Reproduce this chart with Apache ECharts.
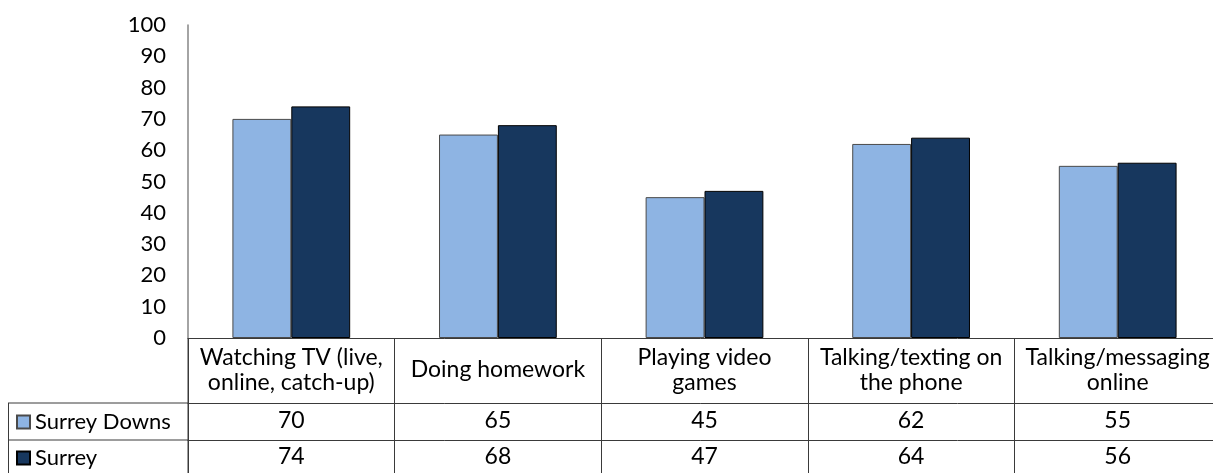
<!DOCTYPE html>
<html><head><meta charset="utf-8">
<script src="https://cdn.jsdelivr.net/npm/echarts@6/dist/echarts.min.js"></script>
<style>html,body{margin:0;padding:0;background:#fff}#c{width:1213px;height:473px}</style>
</head><body><div id="c"></div>
<script>
const categories = ['Watching TV (live,\nonline, catch-up)', 'Doing homework', 'Playing video\ngames', 'Talking/texting on\nthe phone', 'Talking/messaging\nonline'];
const seriesNames = ['Surrey Downs', 'Surrey'];
const surreyDowns = [70, 65, 45, 62, 55];
const surrey = [74, 68, 47, 64, 56];
const yTicks = [0, 10, 20, 30, 40, 50, 60, 70, 80, 90, 100];

const FONT = 'Lato';
const FS = 22;
const CFS = 23;
const lineCol = '#3a3a3a';
const chart = echarts.init(document.getElementById('c'), null, {renderer: 'canvas'});

const GL = 188, GT = 25, GH = 313;
function valueAxis(values, offset, margin) {
  return {
    type: 'category', data: categories, gridIndex: 0, position: 'bottom', offset: offset,
    axisLine: {show: true, lineStyle: {color: lineCol, width: 1}},
    axisTick: {show: false},
    axisLabel: {formatter: (v, i) => String(values[i]), fontFamily: FONT, fontSize: CFS, color: '#000', margin: margin, verticalAlign: 'middle', interval: 0}
  };
}
function legendFor(name, top) {
  return {
    orient: 'vertical', left: 11, top: top, itemGap: 0,
    itemWidth: 13, itemHeight: 13, icon: 'rect',
    textStyle: {fontFamily: FONT, fontSize: FS, color: '#000', padding: [0, 0, 0, 0]},
    data: [name]
  };
}
const option = {
  animation: false,
  backgroundColor: '#fff',
  grid: {left: GL, width: 1033, top: GT, height: GH, containLabel: false, outerBoundsMode: 'none'},
  legend: [legendFor(seriesNames[0], 406), legendFor(seriesNames[1], 442)],
  yAxis: {
    type: 'value', min: 0, max: 100, interval: 10,
    axisLine: {show: true, lineStyle: {color: '#868686', width: 1.5}},
    axisTick: {show: false}, splitLine: {show: false},
    axisLabel: {fontFamily: FONT, fontSize: FS, color: '#000', margin: 22,
      formatter: v => yTicks.includes(v) ? String(v) : ''}
  },
  xAxis: [
    {
      type: 'category', data: categories, position: 'bottom',
      axisLine: {show: true, lineStyle: {color: lineCol, width: 1}},
      axisTick: {show: true, length: 140, lineStyle: {color: lineCol, width: 1}},
      axisLabel: {fontFamily: FONT, fontSize: CFS, color: '#000', margin: 32, verticalAlign: 'middle', lineHeight: 25, interval: 0}
    },
    valueAxis(surreyDowns, 65, 18),
    valueAxis(surrey, 102, 17)
  ],
  series: [
    {name: seriesNames[0], type: 'bar', data: surreyDowns, barGap: '0%', barCategoryGap: '43%',
      itemStyle: {color: '#8EB4E3', borderColor: '#4a4a4a', borderWidth: 1}},
    {name: seriesNames[1], type: 'bar', data: surrey, barGap: '0%', barCategoryGap: '43%',
      itemStyle: {color: '#17375E', borderColor: '#000', borderWidth: 1}}
  ]
};
chart.setOption(option);
const y1 = chart.convertToPixel({yAxisIndex: 0}, 0);
option.graphic = [
  {type: 'line', shape: {x1: 8, y1: y1 + 65, x2: GL, y2: y1 + 65}, style: {stroke: lineCol, lineWidth: 1}},
  {type: 'line', shape: {x1: 8, y1: y1 + 102, x2: GL, y2: y1 + 102}, style: {stroke: lineCol, lineWidth: 1}},
  {type: 'line', shape: {x1: 8.5, y1: y1 + 65, x2: 8.5, y2: 473}, style: {stroke: lineCol, lineWidth: 1}},
  {type: 'line', shape: {x1: GL, y1: y1, x2: GL, y2: 473}, style: {stroke: lineCol, lineWidth: 1}}
];
chart.setOption(option);
</script></body></html>
